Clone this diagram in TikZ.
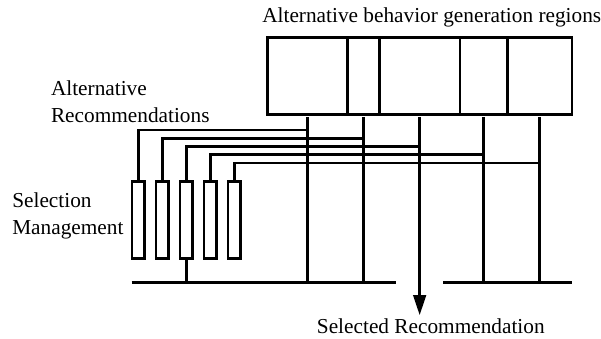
\documentclass[tikz,border=0pt]{standalone}
\usepackage{fontspec}
\setmainfont{Liberation Serif}
\usetikzlibrary{positioning,arrows.meta}

\begin{document}
\begin{tikzpicture}[x=1pt, y=-1pt, line width=2.8pt,
    every node/.append style={font=\fontsize{21.3}{26.7}\selectfont, inner sep=0pt, outer sep=0pt},
    region/.style={draw, minimum height=76.6pt},
    selbox/.style={draw, minimum width=12.5pt, minimum height=76.6pt},
    label/.style={anchor=base west, align=left}]
    \useasboundingbox (0,0) rectangle (601,338);
    % behavior generation regions
    \node(reg1)[region, minimum width=80.4pt] at (307.5,76) {};
    \node(reg2)[region, minimum width=31.6pt, right=0pt of reg1] {};
    \node(reg3)[region, minimum width=80.7pt, right=0pt of reg2] {};
    \node(reg4)[region, minimum width=47.7pt, right=0pt of reg3] {};
    \node(reg5)[region, minimum width=64.3pt, right=0pt of reg4] {};
    % selection management
    \node(sel1)[selbox] at (138.3,220) {};
    \node(sel2)[selbox, right=11.5pt of sel1] {};
    \node(sel3)[selbox, right=11.5pt of sel2] {};
    \node(sel4)[selbox, right=11.5pt of sel3] {};
    \node(sel5)[selbox, right=11.5pt of sel4] {};
    % texts (base = last line)
    \node(regtext)[label] at (262.3,22.7) {Alternative behavior generation regions};
    \node(alttext)[label] at (51,122) {Alternative\\Recommendations};
    \node(seltext)[label] at (12.3,234) {Selection\\Management};
    \node(result)[anchor=base] at (430.8,333) {Selected Recommendation};
    % bus and feeder levels
    \coordinate(busW) at (131.7,282.7);
    \coordinate(gapW) at (395.7,282.7);
    \coordinate(gapE) at (443.3,282.7);
    \coordinate(busE) at (571.7,282.7);
    \foreach \i/\y in {1/130, 2/138.3, 3/146.7, 4/154.7, 5/163} {
      \coordinate(out\i) at ([yshift=-3pt]reg\i.south);
      \coordinate(lvl\i) at (0,\y);
      \draw (sel\i.north) |- (out\i |- lvl\i);
    }
    \draw (busW) -- (gapW);
    \draw (gapE) -- (busE);
    \draw (sel3.south) -- (sel3.south |- busW);
    \foreach \i in {1,2,4,5}
      \draw (out\i) -- (out\i |- busW);
    \draw[-{Triangle[length=20pt,width=12.5pt]}, shorten >=3pt] (out3) -- (out3 |- result.north);
\end{tikzpicture}
\end{document}
